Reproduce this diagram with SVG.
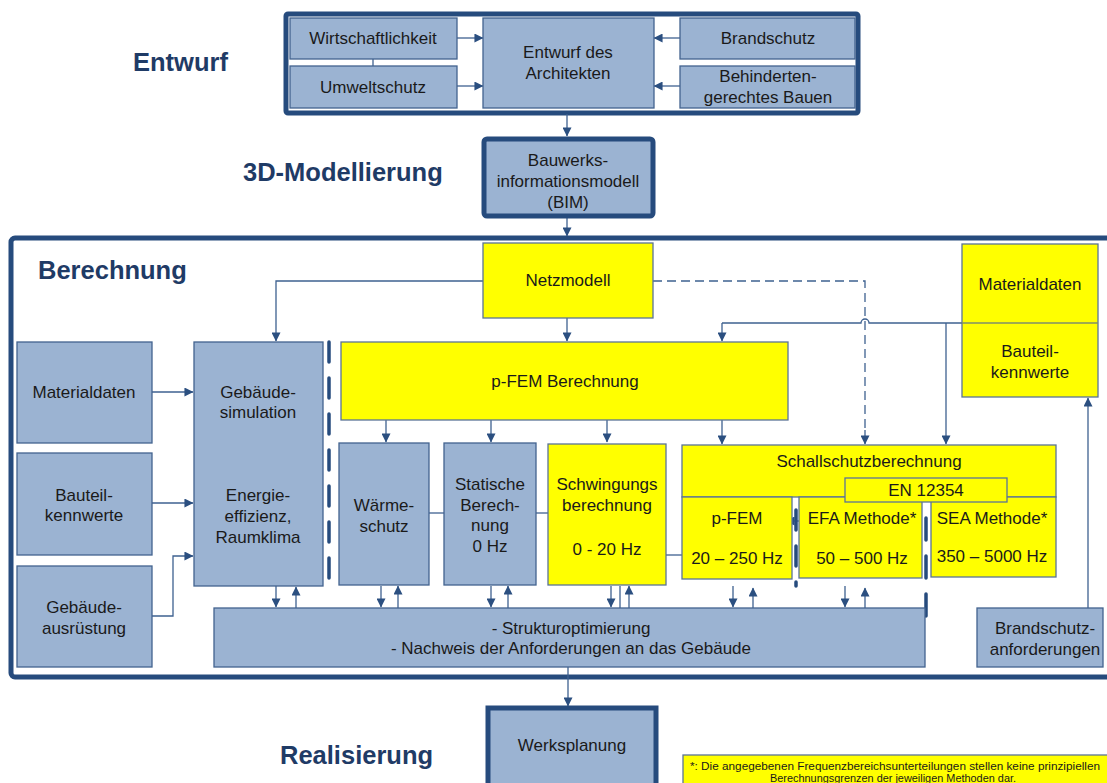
<svg xmlns="http://www.w3.org/2000/svg" width="1107" height="783" viewBox="0 0 1107 783">
  <defs>
    <marker id="ah" viewBox="0 0 10 10" refX="9.5" refY="5" markerWidth="10" markerHeight="9" markerUnits="userSpaceOnUse" orient="auto">
      <path d="M0,0 L10,5 L0,10 Z" fill="#2b4f80"/>
    </marker>
    <marker id="ahs" viewBox="0 0 10 10" refX="0.5" refY="5" markerWidth="10" markerHeight="9" markerUnits="userSpaceOnUse" orient="auto-start-reverse">
      <path d="M0,0 L10,5 L0,10 Z" fill="#2b4f80"/>
    </marker>
  </defs>
  <style>
    text { font-family: "Liberation Sans", Arial, sans-serif; fill: #1a1a1a; font-size: 17px; text-anchor: middle; dominant-baseline: central; }
    .head { font-weight: bold; font-size: 25.5px; fill: #1f3b66; text-anchor: start; }
    .blue { fill: #9bb3d2; stroke: #42638f; stroke-width: 1.3; }
    .yel { fill: #ffff00; stroke: #5b7397; stroke-width: 1.3; }
    .frame { fill: none; stroke: #264b7d; stroke-width: 5; }
    .thick { fill: #9bb3d2; stroke: #264b7d; stroke-width: 5; }
    .c { fill: none; stroke: #3e6190; stroke-width: 1.3; }
    .ca { fill: none; stroke: #3e6190; stroke-width: 1.3; marker-end: url(#ah); }
    .cb { fill: none; stroke: #3e6190; stroke-width: 1.3; marker-end: url(#ah); marker-start: url(#ahs); }
    .dash { fill: none; stroke: #3e6190; stroke-width: 1.3; stroke-dasharray: 9 5; }
    .sep { fill: none; stroke: #264b7d; stroke-width: 3.5; stroke-linecap: round; stroke-dasharray: 20 16; }
    .note { font-size: 11px; }
  </style>

  <!-- phase headings -->
  <text class="head" x="133" y="62">Entwurf</text>
  <text class="head" x="243" y="172">3D-Modellierung</text>
  <text class="head" x="38" y="270">Berechnung</text>
  <text class="head" x="280" y="755">Realisierung</text>

  <!-- frames -->
  <rect class="frame" x="286" y="14" width="572" height="99" rx="2"/>
  <rect class="frame" x="11" y="238" width="1120" height="439" rx="4"/>

  <!-- connectors -->
  <g id="connectors">
    <line class="c" x1="373" y1="59" x2="373" y2="66"/>
    <line class="ca" x1="457" y1="38" x2="483" y2="38"/>
    <line class="ca" x1="457" y1="86" x2="483" y2="86"/>
    <line class="ca" x1="680" y1="38" x2="654" y2="38"/>
    <line class="ca" x1="680" y1="86" x2="654" y2="86"/>
    <line class="ca" x1="567" y1="114" x2="567" y2="136"/>
    <line class="ca" x1="567" y1="218" x2="567" y2="236"/>

    <polyline class="ca" points="483,281 276,281 276,341"/>
    <line class="ca" x1="567" y1="318" x2="567" y2="341"/>
    <polyline class="dash" points="653,281 865,281 865,432"/>
    <line class="ca" x1="865" y1="430" x2="865" y2="444"/>
    <path class="c" d="M962,323 L869,323 A4,4 0 0 0 861,323 L722,323"/>
    <line class="ca" x1="722" y1="323" x2="722" y2="341"/>
    <line class="ca" x1="946" y1="323" x2="946" y2="444"/>

    <line class="ca" x1="152" y1="392" x2="193" y2="392"/>
    <line class="ca" x1="152" y1="503" x2="193" y2="503"/>
    <polyline class="ca" points="152,616 173,616 173,556 193,556"/>

    <line class="ca" x1="386" y1="420" x2="386" y2="442"/>
    <line class="ca" x1="491" y1="420" x2="491" y2="442"/>
    <line class="ca" x1="607" y1="420" x2="607" y2="442"/>
    <line class="ca" x1="722" y1="420" x2="722" y2="444"/>

    <line class="cb" x1="428" y1="513" x2="457" y2="513"/>
    <line class="cb" x1="532" y1="513" x2="558" y2="513"/>
    <line class="cb" x1="662" y1="555" x2="692" y2="555"/>
    <line class="ca" x1="799" y1="521" x2="786" y2="521"/>

    <line class="ca" x1="276" y1="586" x2="276" y2="607"/>
    <line class="ca" x1="296" y1="608" x2="296" y2="587"/>
    <line class="ca" x1="381" y1="586" x2="381" y2="607"/>
    <line class="ca" x1="398" y1="608" x2="398" y2="586"/>
    <line class="ca" x1="491" y1="586" x2="491" y2="607"/>
    <line class="ca" x1="508" y1="608" x2="508" y2="586"/>
    <line class="ca" x1="611" y1="586" x2="611" y2="607"/>
    <line class="c" x1="620" y1="586" x2="620" y2="608"/>
    <line class="ca" x1="629" y1="608" x2="629" y2="586"/>
    <line class="ca" x1="733" y1="586" x2="733" y2="607"/>
    <line class="ca" x1="753" y1="608" x2="753" y2="588"/>
    <line class="ca" x1="845" y1="586" x2="845" y2="607"/>
    <line class="ca" x1="865" y1="608" x2="865" y2="588"/>

    <line class="ca" x1="1088" y1="608" x2="1088" y2="398"/>
    <line class="ca" x1="568" y1="667" x2="568" y2="706"/>
  </g>

  <!-- separators -->
  <line class="sep" x1="329" y1="342" x2="329" y2="590"/>
  <line class="sep" x1="796" y1="474" x2="796" y2="586"/>
  <line class="sep" x1="926" y1="518" x2="926" y2="616" style="stroke-dasharray: 22 16"/>

  <!-- design phase -->
  <g id="wirtschaftlichkeit"><rect class="blue" x="290" y="18" width="167" height="41"/><text x="373" y="38">Wirtschaftlichkeit</text></g>
  <g id="umweltschutz"><rect class="blue" x="290" y="66" width="167" height="42"/><text x="373" y="87">Umweltschutz</text></g>
  <g id="entwurf-architekt"><rect class="blue" x="483" y="18" width="171" height="90"/><text x="568" y="52">Entwurf des</text><text x="568" y="73">Architekten</text></g>
  <g id="brandschutz"><rect class="blue" x="680" y="18" width="175" height="41"/><text x="768" y="38">Brandschutz</text></g>
  <g id="behindertengerecht"><rect class="blue" x="680" y="66" width="175" height="42"/><text x="768" y="76">Behinderten-</text><text x="768" y="97">gerechtes Bauen</text></g>

  <!-- modelling -->
  <g id="bim"><rect class="thick" x="484" y="139" width="169" height="77" rx="3"/><text x="568" y="160">Bauwerks-</text><text x="568" y="181">informationsmodell</text><text x="568" y="202">(BIM)</text></g>

  <!-- calculation -->
  <g id="netzmodell"><rect class="yel" x="483" y="243" width="170" height="75"/><text x="568" y="280">Netzmodell</text></g>
  <g id="materialdaten-bauteil"><rect class="yel" x="962" y="244" width="136" height="153"/><line x1="962" y1="323" x2="1098" y2="323" stroke="#7f8f6a" stroke-width="1.3"/><text x="1030" y="284">Materialdaten</text><text x="1030" y="351">Bauteil-</text><text x="1030" y="372">kennwerte</text></g>

  <g id="materialdaten"><rect class="blue" x="17" y="342" width="135" height="101"/><text x="84" y="392">Materialdaten</text></g>
  <g id="bauteilkennwerte"><rect class="blue" x="17" y="453" width="135" height="102"/><text x="84" y="495">Bauteil-</text><text x="84" y="515">kennwerte</text></g>
  <g id="gebaeudeausruestung"><rect class="blue" x="17" y="566" width="135" height="101"/><text x="84" y="607">Gebäude-</text><text x="84" y="628">ausrüstung</text></g>

  <g id="gebaeudesimulation"><rect class="blue" x="194" y="342" width="129" height="244"/><text x="258" y="392">Gebäude-</text><text x="258" y="412">simulation</text><text x="258" y="495">Energie-</text><text x="258" y="516">effizienz,</text><text x="258" y="537">Raumklima</text></g>

  <g id="pfem-berechnung"><rect class="yel" x="341" y="342" width="447" height="78"/><text x="565" y="381">p-FEM Berechnung</text></g>

  <g id="waermeschutz"><rect class="blue" x="339" y="443" width="90" height="142"/><text x="384" y="505">Wärme-</text><text x="384" y="526">schutz</text></g>
  <g id="statik"><rect class="blue" x="444" y="443" width="92" height="142"/><text x="490" y="484">Statische</text><text x="490" y="505">Berech-</text><text x="490" y="525">nung</text><text x="490" y="546">0 Hz</text></g>
  <g id="schwingung"><rect class="yel" x="548" y="444" width="118" height="141"/><text x="607" y="484">Schwingungs</text><text x="607" y="505">berechnung</text><text x="607" y="549">0 - 20 Hz</text></g>

  <g id="schallschutz"><rect class="yel" x="682" y="445" width="374" height="52"/><text x="869" y="461">Schallschutzberechnung</text></g>
  <g id="schall-pfem"><rect class="yel" x="682" y="497" width="110" height="82"/><text x="737" y="518">p-FEM</text><text x="737" y="558">20 – 250 Hz</text></g>
  <g id="schall-efa"><rect class="yel" x="799" y="497" width="123" height="81"/><text x="862" y="518">EFA Methode*</text><text x="862" y="558">50 – 500 Hz</text></g>
  <g id="schall-sea"><rect class="yel" x="931" y="497" width="125" height="80"/><text x="992" y="518">SEA Methode*</text><text x="992" y="556">350 – 5000 Hz</text></g>
  <g id="en12354"><rect class="yel" x="845" y="478" width="162" height="24"/><text x="926" y="490">EN 12354</text></g>

  <g id="strukturoptimierung"><rect class="blue" x="214" y="608" width="711" height="59"/><text x="571" y="628">- Strukturoptimierung</text><text x="571" y="648">- Nachweis der Anforderungen an das Gebäude</text></g>
  <g id="brandschutzanforderungen"><rect class="blue" x="977" y="608" width="126" height="59"/><text x="1045" y="628">Brandschutz-</text><text x="1045" y="649">anforderungen</text></g>

  <!-- realisation -->
  <g id="werksplanung"><rect class="thick" x="488" y="708" width="168" height="90"/><text x="572" y="745">Werksplanung</text></g>

  <g id="fussnote"><rect class="yel" x="683" y="755" width="430" height="30"/><text class="note" x="895" y="766" textLength="410" lengthAdjust="spacingAndGlyphs">*: Die angegebenen Frequenzbereichsunterteilungen stellen keine prinzipiellen</text><text class="note" x="893" y="778" textLength="246" lengthAdjust="spacingAndGlyphs">Berechnungsgrenzen der jeweiligen Methoden dar.</text></g>
</svg>
